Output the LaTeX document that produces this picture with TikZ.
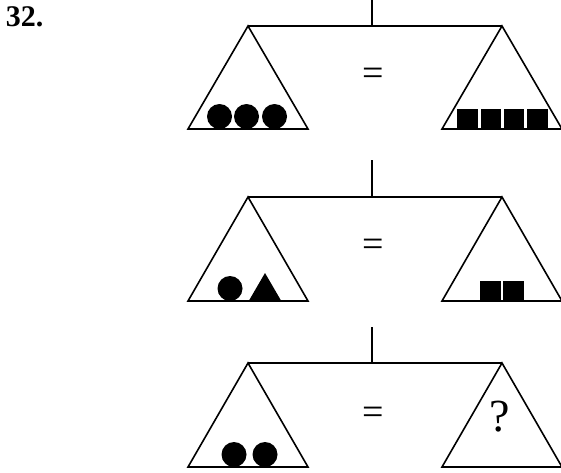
\documentclass[tikz,border=0pt]{standalone}
\usepackage{fontspec}
\setmainfont{Liberation Serif}
\begin{document}
\begin{tikzpicture}[x=1pt,y=-1pt,line width=1.6pt,line join=miter,
  beam/.style={draw,line width=1.6pt},
  pan/.style={draw,line width=1.6pt,line join=miter},
  weight/.style={fill=black},
  eqsign/.style={inner sep=0pt,font=\fontsize{38}{38}\selectfont},
  qmark/.style={inner sep=0pt,font=\fontsize{46}{46}\selectfont},
  numlabel/.style={inner sep=0pt,anchor=west,font=\fontsize{30}{30}\selectfont\bfseries}]
\useasboundingbox (0,0) rectangle (561,472);
\node[numlabel] (num) at (5,17) {32.};
% ---------- balance 1
\coordinate (p1top) at (372,0);
\coordinate (p1) at (372,26);
\coordinate (l1) at (248,26);
\coordinate (r1) at (502,26);
\draw[beam] (p1top) -- (p1);
\draw[beam] (l1) -- (r1);
\draw[pan] (l1) -- ++(-60,103) -- ++(120,0) -- cycle;
\draw[pan] (r1) -- ++(-60,103) -- ++(120,0) -- cycle;
\node[eqsign] (eq1) at (373,77) {=};
\fill[weight] (219.5,116.5) circle (12.5);
\fill[weight] (246.5,116.5) circle (12.5);
\fill[weight] (274.5,116.5) circle (12.5);
\fill[weight] (457,109) rectangle (477.5,129);
\fill[weight] (480.5,109) rectangle (501,129);
\fill[weight] (503.5,109) rectangle (524,129);
\fill[weight] (527,109) rectangle (547.5,129);
% ---------- balance 2
\coordinate (p2top) at (372,160);
\coordinate (p2) at (372,197);
\coordinate (l2) at (248,197);
\coordinate (r2) at (502,197);
\draw[beam] (p2top) -- (p2);
\draw[beam] (l2) -- (r2);
\draw[pan] (l2) -- ++(-60,104) -- ++(120,0) -- cycle;
\draw[pan] (r2) -- ++(-60,104) -- ++(120,0) -- cycle;
\node[eqsign] (eq2) at (373,248) {=};
\fill[weight] (230,288.5) circle (12.5);
\fill[weight] (249,300.5) -- (281,300.5) -- (265,273) -- cycle;
\fill[weight] (480,281) rectangle (501,301);
\fill[weight] (503,281) rectangle (523.5,301);
% ---------- balance 3
\coordinate (p3top) at (372,327);
\coordinate (p3) at (372,363);
\coordinate (l3) at (248,363);
\coordinate (r3) at (502,363);
\draw[beam] (p3top) -- (p3);
\draw[beam] (l3) -- (r3);
\draw[pan] (l3) -- ++(-60,104) -- ++(120,0) -- cycle;
\draw[pan] (r3) -- ++(-60,104) -- ++(120,0) -- cycle;
\node[eqsign] (eq3) at (373,416) {=};
\fill[weight] (234,454.5) circle (12.5);
\fill[weight] (265,454.5) circle (12.5);
\node[qmark] (q) at (500,417) {?};
\end{tikzpicture}
\end{document}
